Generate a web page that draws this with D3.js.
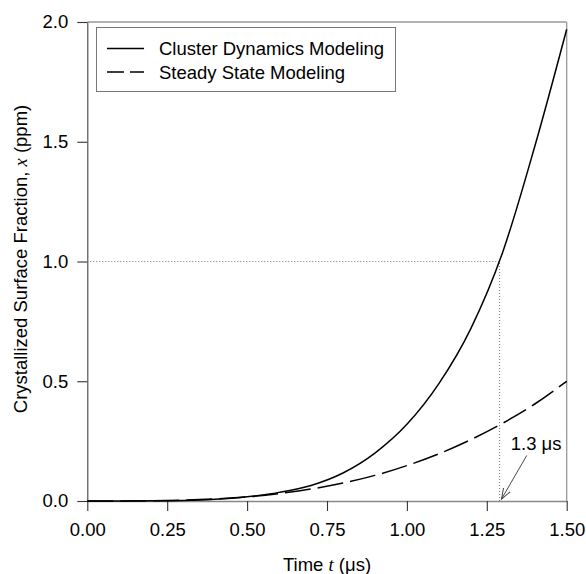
<!DOCTYPE html>
<html>
<head>
<meta charset="utf-8">
<script src="https://cdn.jsdelivr.net/npm/d3@7"></script>
<style>
  html, body { margin: 0; padding: 0; background: #fff; }
  svg { display: block; font-family: "Liberation Sans", Arial, Helvetica, sans-serif; }
</style>
</head>
<body>
<svg id="chart" width="586" height="574"></svg>
<script>
// ---- data ----
const timeUs = [0, 0.1, 0.2, 0.3, 0.4, 0.5, 0.6, 0.7, 0.8, 0.9, 1.0, 1.1, 1.2, 1.3, 1.4, 1.5];
const clusterPpm = [0, 0.0001, 0.0006, 0.002, 0.007, 0.018, 0.036, 0.065, 0.117, 0.20, 0.32, 0.49, 0.72, 1.04, 1.48, 1.97];
const steadyPpm  = [0, 0.0002, 0.0012, 0.004, 0.009, 0.017, 0.031, 0.050, 0.075, 0.107, 0.148, 0.197, 0.256, 0.325, 0.405, 0.50];
const xTicks = [0, 0.25, 0.5, 0.75, 1.0, 1.25, 1.5];
const yTicks = [0, 0.5, 1.0, 1.5, 2.0];
const seriesNames = ["Cluster Dynamics Modeling", "Steady State Modeling"];
const markTime = 1.29;      // where cluster curve reaches 1.0 ppm
const markLevel = 1.0;
const markLabel = "1.3 \u03bcs";

// ---- layout ----
const FS = 18.5;
const svg = d3.select("#chart");
const m = { left: 87.3, right: 566.7, top: 22, bottom: 501 };
const x = d3.scaleLinear().domain([0, 1.5]).range([m.left, m.right]);
const y = d3.scaleLinear().domain([0, 2.0]).range([m.bottom, m.top]);

// frame (top & right)
svg.append("line").attr("x1", m.left).attr("x2", m.right).attr("y1", m.top).attr("y2", m.top)
  .attr("stroke", "#999").attr("stroke-width", 1.3);
svg.append("line").attr("x1", m.right).attr("x2", m.right).attr("y1", m.top).attr("y2", m.bottom)
  .attr("stroke", "#999").attr("stroke-width", 1.3);

// axes
const xAxis = svg.append("g").attr("transform", `translate(0,${m.bottom})`)
  .call(d3.axisBottom(x).tickValues(xTicks).tickFormat(d3.format(".2f")).tickSize(10).tickSizeOuter(0).tickPadding(12));
const yAxis = svg.append("g").attr("transform", `translate(${m.left},0)`)
  .call(d3.axisLeft(y).tickValues(yTicks).tickFormat(d3.format(".1f")).tickSize(10).tickSizeOuter(0).tickPadding(9));
xAxis.select(".domain").attr("stroke", "#888").attr("stroke-width", 1.3);
yAxis.select(".domain").attr("stroke", "#444").attr("stroke-width", 1.1);
svg.selectAll(".tick line").attr("stroke", "#333").attr("stroke-width", 1.1);
svg.selectAll(".tick text").attr("font-size", FS).attr("fill", "#000")
  .attr("font-family", "'Liberation Sans', Arial, sans-serif");

// axis titles
const xt = svg.append("text").attr("x", (m.left + m.right) / 2).attr("y", 570.5)
  .attr("text-anchor", "middle").attr("font-size", FS).attr("fill", "#000");
xt.append("tspan").text("Time ");
xt.append("tspan").attr("font-family", "'Liberation Serif', 'Times New Roman', serif").attr("font-style", "italic").text("t");
xt.append("tspan").text(" (\u03bcs)");

const yt = svg.append("text").attr("transform", `translate(27,259) rotate(-90)`)
  .attr("text-anchor", "middle").attr("font-size", FS).attr("fill", "#000");
yt.append("tspan").text("Crystallized Surface Fraction, ");
yt.append("tspan").attr("font-family", "'Liberation Serif', 'Times New Roman', serif").attr("font-style", "italic").text("x");
yt.append("tspan").text(" (ppm)");

// reference dotted lines
svg.append("line").attr("x1", x(0)).attr("x2", x(markTime)).attr("y1", y(markLevel)).attr("y2", y(markLevel))
  .attr("stroke", "#777").attr("stroke-width", 1).attr("stroke-dasharray", "1,2");
svg.append("line").attr("x1", x(markTime)).attr("x2", x(markTime)).attr("y1", y(0)).attr("y2", y(markLevel))
  .attr("stroke", "#777").attr("stroke-width", 1).attr("stroke-dasharray", "1,2");

// curves
const line = d3.line().x(d => x(d[0])).y(d => y(d[1])).curve(d3.curveMonotoneX);
svg.append("path").datum(timeUs.map((t, i) => [t, clusterPpm[i]]))
  .attr("d", line).attr("fill", "none").attr("stroke", "#000").attr("stroke-width", 1.5);
svg.append("path").datum(timeUs.map((t, i) => [t, steadyPpm[i]]))
  .attr("d", line).attr("fill", "none").attr("stroke", "#000").attr("stroke-width", 1.5)
  .attr("stroke-dasharray", "26,7");

// annotation arrow
const defs = svg.append("defs");
defs.append("marker").attr("id", "arr").attr("viewBox", "0 -5 12 10").attr("refX", 11).attr("refY", 0)
  .attr("markerWidth", 12).attr("markerHeight", 10).attr("markerUnits", "userSpaceOnUse").attr("orient", "auto")
  .append("path").attr("d", "M0,-4L11,0L0,4").attr("fill", "none").attr("stroke", "#333").attr("stroke-width", 0.9);
svg.append("line").attr("x1", x(1.375)).attr("y1", y(0.19)).attr("x2", x(1.296)).attr("y2", y(0.008))
  .attr("stroke", "#333").attr("stroke-width", 0.9).attr("marker-end", "url(#arr)");
svg.append("text").attr("x", x(1.325)).attr("y", y(0.213)).attr("font-size", FS).attr("fill", "#000").text(markLabel);

// legend
const lg = svg.append("g");
lg.append("rect").attr("x", 96.5).attr("y", 27.5).attr("width", 299).attr("height", 64)
  .attr("fill", "#fff").attr("stroke", "#777").attr("stroke-width", 1);
const rowsY = [48.5, 72];
seriesNames.forEach((name, i) => {
  lg.append("line").attr("x1", 107).attr("x2", 144).attr("y1", rowsY[i]).attr("y2", rowsY[i])
    .attr("stroke", "#000").attr("stroke-width", 1.5)
    .attr("stroke-dasharray", i === 1 ? "17,6" : null);
  lg.append("text").attr("x", 159).attr("y", rowsY[i] + 6.5).attr("font-size", FS).attr("fill", "#000").text(name);
});
</script>
</body>
</html>
